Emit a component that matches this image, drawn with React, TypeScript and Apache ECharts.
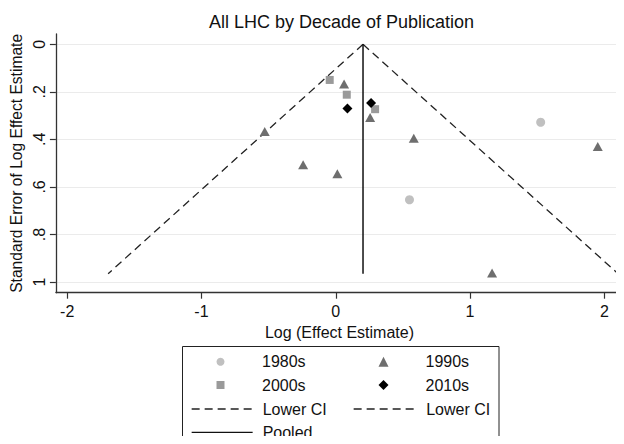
import React, { useEffect, useRef } from "react";
import * as echarts from "echarts";

const titleText = "All LHC by Decade of Publication";
const xAxisTitle = "Log (Effect Estimate)";
const yAxisTitle = "Standard Error of Log Effect Estimate";

// [log effect estimate, standard error]
const d1980s: number[][] = [
  [1.526, 0.328],
  [0.549, 0.654],
];
const d1990s: number[][] = [
  [0.062, 0.167],
  [0.256, 0.308],
  [0.581, 0.395],
  [1.951, 0.43],
  [-0.529, 0.367],
  [-0.243, 0.507],
  [0.012, 0.545],
  [1.164, 0.962],
];
const d2000s: number[][] = [
  [-0.045, 0.15],
  [0.082, 0.212],
  [0.293, 0.273],
];
const d2010s: number[][] = [
  [0.087, 0.27],
  [0.263, 0.247],
];
const lowerCI: number[][] = [
  [0.203, 0],
  [-1.695, 0.965],
];
const upperCI: number[][] = [
  [0.203, 0],
  [2.102, 0.965],
];
const pooledLine: number[][] = [
  [0.203, 0],
  [0.203, 0.965],
];

const xTicks = [-2, -1, 0, 1, 2];
const yTicks = [0, 0.2, 0.4, 0.6, 0.8, 1];
const yTickLabels = ["0", ".2", ".4", ".6", ".8", "1"];

const FONT = "'Liberation Sans', Arial, sans-serif";
const TXT = "#111";
const AXIS = "#333";

export default function App() {
  const ref = useRef<HTMLDivElement>(null);
  useEffect(() => {
    if (!ref.current) return;
    const chart = echarts.init(ref.current, undefined, { renderer: "svg" });
    const dash = [8, 5];
    const hidden = { color: "rgba(0,0,0,0)", opacity: 0, borderWidth: 0 };
    const legendBase = {
      orient: "vertical",
      padding: 0,
      itemGap: 7.3,
      selectedMode: false,
      symbolKeepAspect: true,
      lineStyle: { width: 1.3 },
    };
    const txt = (padLeft: number) => ({
      fontSize: 16,
      color: TXT,
      fontFamily: FONT,
      lineHeight: 16,
      padding: [0, 0, 0, padLeft],
    });
    chart.setOption({
      animation: false,
      backgroundColor: "#fff",
      textStyle: { fontFamily: FONT },
      grid: { left: 55, right: 1, top: 34, bottom: 151.3, containLabel: false },
      xAxis: {
        type: "value",
        min: -2.084,
        max: 2.139,
        axisLine: { show: true, onZero: false, lineStyle: { color: AXIS, width: 1.3 } },
        axisTick: { show: true, length: 6, customValues: xTicks, lineStyle: { color: AXIS, width: 1.2 } },
        axisLabel: {
          customValues: xTicks,
          margin: 11,
          fontSize: 16,
          color: TXT,
          fontFamily: FONT,
          formatter: (v: number) => String(v),
        },
        splitLine: { show: false },
        name: xAxisTitle,
        nameLocation: "middle",
        nameGap: 28.5,
        nameTextStyle: { fontSize: 16, color: TXT, fontFamily: FONT },
      },
      yAxis: {
        type: "value",
        inverse: true,
        min: -0.0433,
        max: 1.045,
        axisLine: { show: true, onZero: false, lineStyle: { color: AXIS, width: 1.3 } },
        axisTick: { show: true, length: 6, customValues: yTicks, lineStyle: { color: AXIS, width: 1.2 } },
        axisLabel: {
          customValues: yTicks,
          rotate: 90,
          margin: 8,
          fontSize: 16,
          color: TXT,
          fontFamily: FONT,
          formatter: (v: number) => {
            const i = yTicks.findIndex((t) => Math.abs(t - v) < 1e-6);
            return i >= 0 ? yTickLabels[i] : "";
          },
        },
        splitLine: { show: true, lineStyle: { color: "#ebebeb", width: 1.2 } },
        name: yAxisTitle,
        nameLocation: "middle",
        nameGap: 28,
        nameTextStyle: { fontSize: 15.6, color: TXT, fontFamily: FONT },
      },
      legend: [
        {
          ...legendBase,
          left: 216.5,
          top: 353.7,
          itemWidth: 8,
          itemHeight: 8,
          textStyle: txt(32.5),
          data: [
            { name: "1980s", icon: "circle" },
            { name: "2000s", icon: "rect" },
          ],
        },
        {
          ...legendBase,
          left: 378.5,
          top: 353.7,
          itemWidth: 10,
          itemHeight: 10,
          textStyle: txt(32),
          data: [
            { name: "1990s", icon: "triangle" },
            { name: "2010s", icon: "diamond" },
          ],
        },
        {
          ...legendBase,
          left: 191,
          top: 401,
          itemWidth: 61,
          itemHeight: 9,
          textStyle: txt(5),
          data: [
            { name: "Lower CI", itemStyle: hidden },
            { name: "Pooled", itemStyle: hidden },
          ],
        },
        {
          ...legendBase,
          left: 353,
          top: 401,
          itemWidth: 61,
          itemHeight: 9,
          textStyle: txt(6.5),
          data: [{ name: "Lower CI", itemStyle: hidden }],
        },
      ],
      graphic: [
        {
          type: "text",
          x: 341.5,
          y: 22,
          style: {
            text: titleText,
            fontSize: 18,
            fontFamily: FONT,
            fill: TXT,
            align: "center",
            verticalAlign: "middle",
          },
        },
        {
          type: "rect",
          shape: { x: 182.5, y: 346.5, width: 316.5, height: 130 },
          style: { fill: "none", stroke: "#222", lineWidth: 1 },
          silent: true,
        },
      ],
      series: [
        {
          name: "Lower CI",
          type: "line",
          data: lowerCI,
          symbol: "none",
          lineStyle: { color: "#222", width: 1.3, type: dash },
          itemStyle: { color: "#222" },
          z: 3,
        },
        {
          name: "Lower CI",
          type: "line",
          data: upperCI,
          symbol: "none",
          lineStyle: { color: "#222", width: 1.3, type: dash },
          itemStyle: { color: "#222" },
          z: 3,
        },
        {
          name: "Pooled",
          type: "line",
          data: pooledLine,
          symbol: "none",
          lineStyle: { color: "#111", width: 1.5, type: "solid" },
          itemStyle: { color: "#111" },
          z: 3,
        },
        {
          name: "1980s",
          type: "scatter",
          data: d1980s,
          symbol: "circle",
          symbolSize: 9,
          itemStyle: { color: "#c0c0c0", opacity: 1 },
          z: 4,
        },
        {
          name: "1990s",
          type: "scatter",
          data: d1990s,
          symbol: "triangle",
          symbolSize: [10, 9],
          itemStyle: { color: "#6e6e6e", opacity: 1 },
          z: 4,
        },
        {
          name: "2000s",
          type: "scatter",
          data: d2000s,
          symbol: "rect",
          symbolSize: 8,
          itemStyle: { color: "#9a9a9a", opacity: 1 },
          z: 4,
        },
        {
          name: "2010s",
          type: "scatter",
          data: d2010s,
          symbol: "diamond",
          symbolSize: 10,
          itemStyle: { color: "#000", opacity: 1 },
          z: 5,
        },
      ],
    });
    return () => chart.dispose();
  }, []);
  return <div ref={ref} style={{ width: 624, height: 444, margin: -8 }} />;
}
